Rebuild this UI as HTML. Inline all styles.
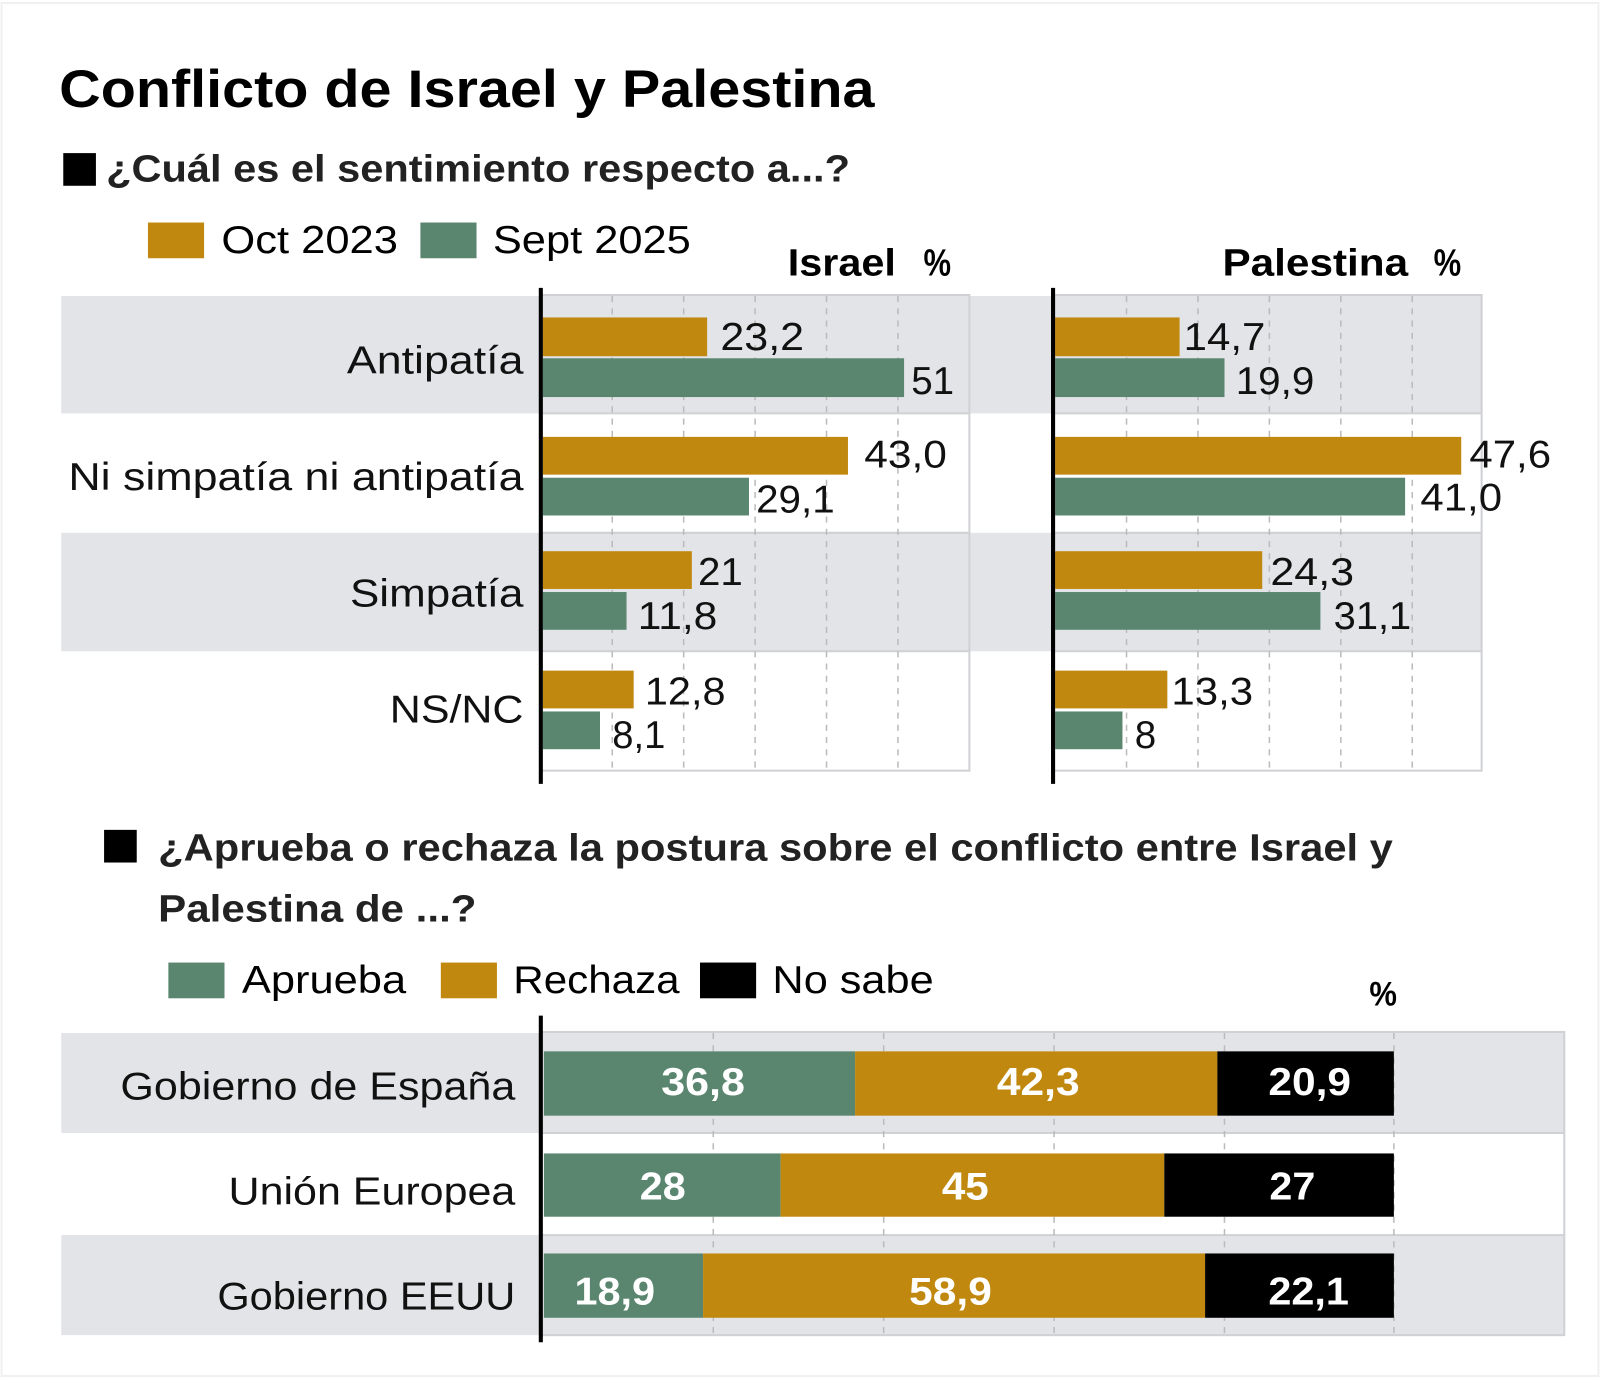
<!DOCTYPE html>
<html><head><meta charset="utf-8"><style>
html,body{margin:0;padding:0;background:#fff;}
svg{display:block;}
text{font-family:"Liberation Sans",Arial,sans-serif;}
.b{font-weight:bold;}
</style></head><body>
<svg width="1600" height="1378" viewBox="0 0 1568 1350" preserveAspectRatio="none" xmlns="http://www.w3.org/2000/svg">
<rect x="0" y="0" width="1568" height="1350" fill="#fff"/>
<rect x="1.5" y="3" width="1565" height="1345" fill="none" stroke="#f0f0f0" stroke-width="2"/>
<!-- Title -->
<text x="58" y="105" font-size="52" class="b" textLength="799" lengthAdjust="spacingAndGlyphs">Conflicto de Israel y Palestina</text>
<rect x="62" y="150" width="32" height="32" fill="#000"/>
<text x="104" y="178" font-size="37" class="b" fill="#222" textLength="729" lengthAdjust="spacingAndGlyphs">¿Cuál es el sentimiento respecto a...?</text>
<rect x="145" y="218" width="55" height="35" fill="#c1880f"/>
<text x="217" y="248" font-size="38" textLength="173" lengthAdjust="spacingAndGlyphs">Oct 2023</text>
<rect x="412" y="218" width="55" height="35" fill="#5a8670"/>
<text x="483" y="248" font-size="38" textLength="194" lengthAdjust="spacingAndGlyphs">Sept 2025</text>
<text x="772" y="270" font-size="37" class="b" textLength="106" lengthAdjust="spacingAndGlyphs">Israel</text>
<text x="905" y="270" font-size="37" class="b" textLength="27" lengthAdjust="spacingAndGlyphs">%</text>
<text x="1198" y="270" font-size="37" class="b" textLength="182" lengthAdjust="spacingAndGlyphs">Palestina</text>
<text x="1405" y="270" font-size="37" class="b" textLength="27" lengthAdjust="spacingAndGlyphs">%</text>
<!-- bands -->
<rect x="60" y="290" width="1392" height="115" fill="#e3e4e8"/>
<rect x="60" y="522" width="1392" height="116" fill="#e3e4e8"/>
<g stroke="#d0d1d5" stroke-width="2" fill="none">
<rect x="530" y="289" width="420" height="466"/>
<rect x="1033" y="289" width="419" height="466"/>
<line x1="530" y1="405" x2="950" y2="405"/><line x1="530" y1="522" x2="950" y2="522"/><line x1="530" y1="638" x2="950" y2="638"/>
<line x1="1033" y1="405" x2="1452" y2="405"/><line x1="1033" y1="522" x2="1452" y2="522"/><line x1="1033" y1="638" x2="1452" y2="638"/>
</g>
<g stroke="#bbb" stroke-width="1.5" stroke-dasharray="6,6">
<line x1="600" y1="290" x2="600" y2="755"/><line x1="670" y1="290" x2="670" y2="755"/><line x1="740" y1="290" x2="740" y2="755"/><line x1="810" y1="290" x2="810" y2="755"/><line x1="880" y1="290" x2="880" y2="755"/>
<line x1="1104" y1="290" x2="1104" y2="755"/><line x1="1174" y1="290" x2="1174" y2="755"/><line x1="1244" y1="290" x2="1244" y2="755"/><line x1="1314" y1="290" x2="1314" y2="755"/><line x1="1384" y1="290" x2="1384" y2="755"/>
</g>
<!-- Israel bars -->
<g fill="#c1880f">
<rect x="532" y="311" width="161" height="38"/><rect x="532" y="428" width="299" height="37"/><rect x="532" y="540" width="146" height="37"/><rect x="532" y="657" width="89" height="37"/>
<rect x="1034" y="311" width="122" height="38"/><rect x="1034" y="428" width="398" height="37"/><rect x="1034" y="540" width="203" height="37"/><rect x="1034" y="657" width="110" height="37"/>
</g>
<g fill="#5a8670">
<rect x="532" y="351" width="354" height="38"/><rect x="532" y="468" width="202" height="37"/><rect x="532" y="580" width="82" height="37"/><rect x="532" y="697" width="56" height="37"/>
<rect x="1034" y="351" width="166" height="38"/><rect x="1034" y="468" width="343" height="37"/><rect x="1034" y="580" width="260" height="37"/><rect x="1034" y="697" width="66" height="37"/>
</g>
<line x1="530" y1="282" x2="530" y2="768" stroke="#000" stroke-width="4"/>
<line x1="1032" y1="282" x2="1032" y2="768" stroke="#000" stroke-width="4"/>
<!-- category labels -->
<g font-size="38" text-anchor="end" fill="#111">
<text x="513" y="366" textLength="173" lengthAdjust="spacingAndGlyphs">Antipatía</text>
<text x="513" y="480" textLength="446" lengthAdjust="spacingAndGlyphs">Ni simpatía ni antipatía</text>
<text x="513" y="594" textLength="170" lengthAdjust="spacingAndGlyphs">Simpatía</text>
<text x="513" y="708" textLength="131" lengthAdjust="spacingAndGlyphs">NS/NC</text>
</g>
<!-- value labels -->
<g font-size="38" fill="#111">
<text x="706" y="343" textLength="82" lengthAdjust="spacingAndGlyphs">23,2</text>
<text x="893" y="386" textLength="42" lengthAdjust="spacingAndGlyphs">51</text>
<text x="847" y="458" textLength="81" lengthAdjust="spacingAndGlyphs">43,0</text>
<text x="741" y="502" textLength="77" lengthAdjust="spacingAndGlyphs">29,1</text>
<text x="684" y="573" textLength="44" lengthAdjust="spacingAndGlyphs">21</text>
<text x="625" y="616" textLength="78" lengthAdjust="spacingAndGlyphs">11,8</text>
<text x="632" y="690" textLength="79" lengthAdjust="spacingAndGlyphs">12,8</text>
<text x="600" y="733" textLength="52" lengthAdjust="spacingAndGlyphs">8,1</text>
<text x="1160" y="343" textLength="80" lengthAdjust="spacingAndGlyphs">14,7</text>
<text x="1211" y="386" textLength="77" lengthAdjust="spacingAndGlyphs">19,9</text>
<text x="1440" y="458" textLength="80" lengthAdjust="spacingAndGlyphs">47,6</text>
<text x="1392" y="500" textLength="80" lengthAdjust="spacingAndGlyphs">41,0</text>
<text x="1245" y="573" textLength="82" lengthAdjust="spacingAndGlyphs">24,3</text>
<text x="1307" y="616" textLength="76" lengthAdjust="spacingAndGlyphs">31,1</text>
<text x="1148" y="690" textLength="80" lengthAdjust="spacingAndGlyphs">13,3</text>
<text x="1112" y="733" textLength="21" lengthAdjust="spacingAndGlyphs">8</text>
</g>
<!-- Section 2 -->
<rect x="102" y="813" width="32" height="32" fill="#000"/>
<text x="155" y="843" font-size="37" class="b" fill="#222" textLength="1210" lengthAdjust="spacingAndGlyphs">¿Aprueba o rechaza la postura sobre el conflicto entre Israel y</text>
<text x="155" y="903" font-size="37" class="b" fill="#222" textLength="312" lengthAdjust="spacingAndGlyphs">Palestina de ...?</text>
<rect x="165" y="943" width="55" height="35" fill="#5a8670"/>
<text x="237" y="973" font-size="38" textLength="161" lengthAdjust="spacingAndGlyphs">Aprueba</text>
<rect x="432" y="943" width="55" height="35" fill="#c1880f"/>
<text x="503" y="973" font-size="38" textLength="163" lengthAdjust="spacingAndGlyphs">Rechaza</text>
<rect x="686" y="943" width="55" height="35" fill="#000"/>
<text x="757" y="973" font-size="38" textLength="158" lengthAdjust="spacingAndGlyphs">No sabe</text>
<text x="1342" y="985" font-size="34" class="b" textLength="27" lengthAdjust="spacingAndGlyphs">%</text>
<rect x="60" y="1012" width="1473" height="98" fill="#e3e4e8"/>
<rect x="60" y="1210" width="1473" height="98" fill="#e3e4e8"/>
<g stroke="#d0d1d5" stroke-width="2" fill="none">
<rect x="530" y="1011" width="1003" height="297"/>
<line x1="530" y1="1110" x2="1533" y2="1110"/><line x1="530" y1="1210" x2="1533" y2="1210"/>
</g>
<g stroke="#bbb" stroke-width="1.5" stroke-dasharray="6,6">
<line x1="699" y1="1012" x2="699" y2="1308"/><line x1="866" y1="1012" x2="866" y2="1308"/><line x1="1033" y1="1012" x2="1033" y2="1308"/><line x1="1200" y1="1012" x2="1200" y2="1308"/><line x1="1366" y1="1012" x2="1366" y2="1308"/>
</g>
<rect x="533" y="1030" width="305" height="63" fill="#5a8670"/><rect x="838" y="1030" width="355" height="63" fill="#c1880f"/><rect x="1193" y="1030" width="173" height="63" fill="#000"/>
<rect x="533" y="1130" width="232" height="62" fill="#5a8670"/><rect x="765" y="1130" width="376" height="62" fill="#c1880f"/><rect x="1141" y="1130" width="225" height="62" fill="#000"/>
<rect x="533" y="1228" width="156" height="63" fill="#5a8670"/><rect x="689" y="1228" width="492" height="63" fill="#c1880f"/><rect x="1181" y="1228" width="185" height="63" fill="#000"/>
<line x1="530" y1="995" x2="530" y2="1315" stroke="#000" stroke-width="4"/>
<g font-size="38" text-anchor="end" fill="#111">
<text x="505" y="1077" textLength="387" lengthAdjust="spacingAndGlyphs">Gobierno de España</text>
<text x="505" y="1180" textLength="281" lengthAdjust="spacingAndGlyphs">Unión Europea</text>
<text x="505" y="1283" textLength="292" lengthAdjust="spacingAndGlyphs">Gobierno EEUU</text>
</g>
<g font-size="38" fill="#fff" class="b">
<text x="648" y="1073" textLength="82" lengthAdjust="spacingAndGlyphs">36,8</text>
<text x="977" y="1073" textLength="81" lengthAdjust="spacingAndGlyphs">42,3</text>
<text x="1243" y="1073" textLength="81" lengthAdjust="spacingAndGlyphs">20,9</text>
<text x="627" y="1175" textLength="45" lengthAdjust="spacingAndGlyphs">28</text>
<text x="923" y="1175" textLength="46" lengthAdjust="spacingAndGlyphs">45</text>
<text x="1244" y="1175" textLength="45" lengthAdjust="spacingAndGlyphs">27</text>
<text x="563" y="1278" textLength="79" lengthAdjust="spacingAndGlyphs">18,9</text>
<text x="891" y="1278" textLength="81" lengthAdjust="spacingAndGlyphs">58,9</text>
<text x="1243" y="1278" textLength="79" lengthAdjust="spacingAndGlyphs">22,1</text>
</g>
</svg>
</body></html>
